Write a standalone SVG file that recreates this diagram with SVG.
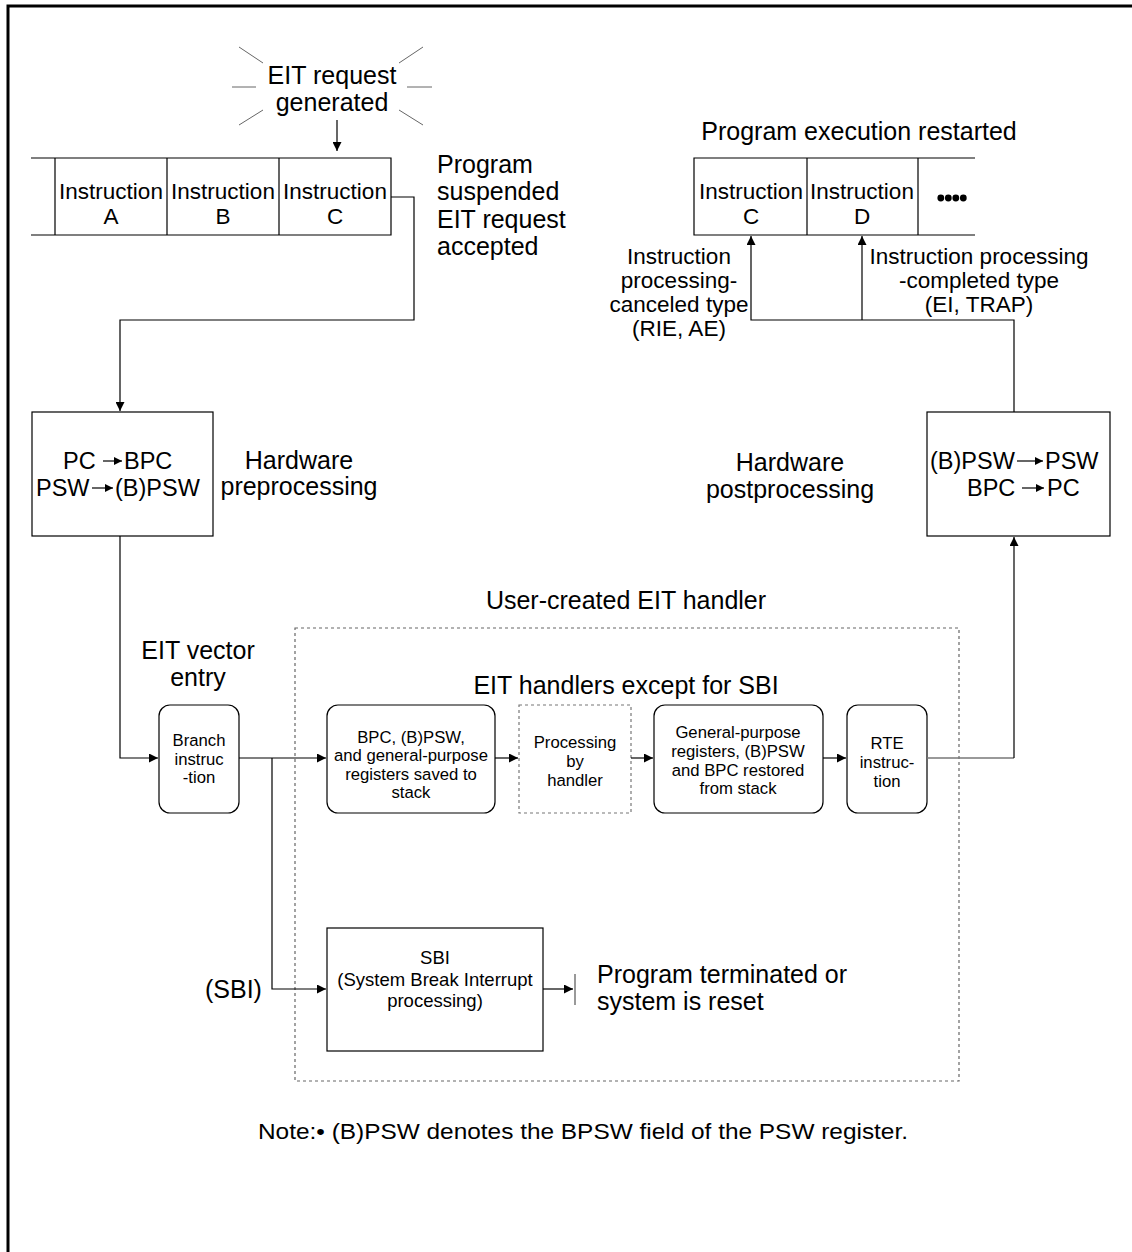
<svg xmlns="http://www.w3.org/2000/svg" width="1132" height="1252" viewBox="0 0 1132 1252">
<style>
text{font-family:"Liberation Sans",Arial,sans-serif;fill:#000}
.lbl{font-size:25px}
.mid{font-size:23.5px}
.cell{font-size:22.5px}
.sm{font-size:16.7px}
.sbi{font-size:18.5px}
.box{fill:#fff;stroke:#000;stroke-width:1.2}
.line{fill:none;stroke:#000;stroke-width:1.2}
.gray{fill:none;stroke:#777;stroke-width:1.5}
.dash{fill:none;stroke:#666;stroke-width:1.2;stroke-dasharray:3 3}
.ray{stroke:#666;stroke-width:1}
</style>
<defs>
<marker id="ah" viewBox="0 0 10 10" refX="10" refY="5" markerWidth="9" markerHeight="9" markerUnits="userSpaceOnUse" orient="auto"><path d="M0,0 L10,5 L0,10 z" fill="#000"/></marker>
<marker id="sah" viewBox="0 0 10 10" refX="10" refY="5" markerWidth="8" markerHeight="8" markerUnits="userSpaceOnUse" orient="auto"><path d="M0,0 L10,5 L0,10 z" fill="#000"/></marker>
</defs>
<rect width="1132" height="1252" fill="#fff"/>
<path d="M8,1252 V6 H1132" fill="none" stroke="#000" stroke-width="3"/>

<g id="eit-request">
<line class="ray" x1="239" y1="47" x2="263" y2="63"/>
<line class="ray" x1="232" y1="87" x2="256" y2="87"/>
<line class="ray" x1="239" y1="125" x2="263" y2="110"/>
<line class="ray" x1="399" y1="63" x2="423" y2="47"/>
<line class="ray" x1="407" y1="87" x2="432" y2="87"/>
<line class="ray" x1="399" y1="110" x2="423" y2="125"/>
<text class="lbl" x="332" y="84" text-anchor="middle">EIT request</text>
<text class="lbl" x="332" y="111" text-anchor="middle">generated</text>
</g>

<g id="instr-row-left">
<path class="line" d="M31,158 H391 V235 H31 M55,158 V235 M167,158 V235 M279,158 V235"/>
<text class="cell" x="111" y="199" text-anchor="middle">Instruction</text>
<text class="cell" x="111" y="224" text-anchor="middle">A</text>
<text class="cell" x="223" y="199" text-anchor="middle">Instruction</text>
<text class="cell" x="223" y="224" text-anchor="middle">B</text>
<text class="cell" x="335" y="199" text-anchor="middle">Instruction</text>
<text class="cell" x="335" y="224" text-anchor="middle">C</text>
</g>

<g id="suspended-label">
<text class="lbl" x="437" y="173">Program</text>
<text class="lbl" x="437" y="200">suspended</text>
<text class="lbl" x="437" y="228">EIT request</text>
<text class="lbl" x="437" y="255">accepted</text>
</g>

<g id="restart-label">
<text class="lbl" x="859" y="140" text-anchor="middle">Program execution restarted</text>
</g>

<g id="instr-row-right">
<path class="line" d="M975,158 H694 V235 H975 M807,158 V235 M918,158 V235"/>
<text class="cell" x="751" y="199" text-anchor="middle">Instruction</text>
<text class="cell" x="751" y="224" text-anchor="middle">C</text>
<text class="cell" x="862" y="199" text-anchor="middle">Instruction</text>
<text class="cell" x="862" y="224" text-anchor="middle">D</text>
<circle cx="940.8" cy="198" r="3.4"/><circle cx="948.3" cy="198" r="3.4"/><circle cx="955.8" cy="198" r="3.4"/><circle cx="963.3" cy="198" r="3.4"/>
</g>

<g id="canceled-label">
<text class="cell" x="679" y="264" text-anchor="middle">Instruction</text>
<text class="cell" x="679" y="288" text-anchor="middle">processing-</text>
<text class="cell" x="679" y="312" text-anchor="middle">canceled type</text>
<text class="cell" x="679" y="336" text-anchor="middle">(RIE, AE)</text>
</g>

<g id="completed-label">
<text class="cell" x="979" y="264" text-anchor="middle">Instruction processing</text>
<text class="cell" x="979" y="288" text-anchor="middle">-completed type</text>
<text class="cell" x="979" y="312" text-anchor="middle">(EI, TRAP)</text>
</g>

<g id="preprocessing">
<rect class="box" x="32" y="412" width="181" height="124"/>
<text class="mid" x="63" y="469">PC</text>
<line class="line" x1="103" y1="461" x2="122" y2="461" marker-end="url(#sah)"/>
<text class="mid" x="124" y="469">BPC</text>
<text class="mid" x="36" y="496">PSW</text>
<line class="line" x1="92" y1="488" x2="113" y2="488" marker-end="url(#sah)"/>
<text class="mid" x="115" y="496">(B)PSW</text>
</g>
<g id="preprocessing-label">
<text class="lbl" x="299" y="469" text-anchor="middle">Hardware</text>
<text class="lbl" x="299" y="495" text-anchor="middle">preprocessing</text>
</g>

<g id="postprocessing">
<rect class="box" x="927" y="412" width="183" height="124"/>
<text class="mid" x="930" y="469">(B)PSW</text>
<line class="line" x1="1017" y1="461" x2="1043" y2="461" marker-end="url(#sah)"/>
<text class="mid" x="1045" y="469">PSW</text>
<text class="mid" x="967" y="496">BPC</text>
<line class="line" x1="1022" y1="488" x2="1044" y2="488" marker-end="url(#sah)"/>
<text class="mid" x="1047" y="496">PC</text>
</g>
<g id="postprocessing-label">
<text class="lbl" x="790" y="471" text-anchor="middle">Hardware</text>
<text class="lbl" x="790" y="498" text-anchor="middle">postprocessing</text>
</g>

<g id="handler-region">
<rect class="dash" x="295" y="628" width="664" height="453"/>
<text class="lbl" x="626" y="609" text-anchor="middle">User-created EIT handler</text>
<text class="lbl" x="626" y="694" text-anchor="middle">EIT handlers except for SBI</text>
</g>

<g id="vector-entry-label">
<text class="lbl" x="198" y="659" text-anchor="middle">EIT vector</text>
<text class="lbl" x="198" y="686" text-anchor="middle">entry</text>
</g>

<g id="branch">
<rect class="box" x="159" y="705" width="80" height="108" rx="11"/>
<text class="sm" x="199" y="746" text-anchor="middle">Branch</text>
<text class="sm" x="199" y="765" text-anchor="middle">instruc</text>
<text class="sm" x="199" y="783" text-anchor="middle">-tion</text>
</g>

<g id="save">
<rect class="box" x="327" y="705" width="168" height="108" rx="11"/>
<text class="sm" x="411" y="743" text-anchor="middle">BPC, (B)PSW,</text>
<text class="sm" x="411" y="761" text-anchor="middle">and general-purpose</text>
<text class="sm" x="411" y="780" text-anchor="middle">registers saved to</text>
<text class="sm" x="411" y="798" text-anchor="middle">stack</text>
</g>

<g id="processing">
<rect x="519" y="705" width="112" height="108" fill="#fff" stroke="#777" stroke-width="1.2" stroke-dasharray="3 3"/>
<text class="sm" x="575" y="748" text-anchor="middle">Processing</text>
<text class="sm" x="575" y="767" text-anchor="middle">by</text>
<text class="sm" x="575" y="786" text-anchor="middle">handler</text>
</g>

<g id="restore">
<rect class="box" x="654" y="705" width="169" height="108" rx="11"/>
<text class="sm" x="738" y="738" text-anchor="middle">General-purpose</text>
<text class="sm" x="738" y="757" text-anchor="middle">registers, (B)PSW</text>
<text class="sm" x="738" y="776" text-anchor="middle">and BPC restored</text>
<text class="sm" x="738" y="794" text-anchor="middle">from stack</text>
</g>

<g id="rte">
<rect class="box" x="847" y="705" width="80" height="108" rx="11"/>
<text class="sm" x="887" y="749" text-anchor="middle">RTE</text>
<text class="sm" x="887" y="768" text-anchor="middle">instruc-</text>
<text class="sm" x="887" y="787" text-anchor="middle">tion</text>
</g>

<g id="sbi">
<rect class="box" x="327" y="928" width="216" height="123"/>
<text class="sbi" x="435" y="964" text-anchor="middle">SBI</text>
<text class="sbi" x="435" y="986" text-anchor="middle">(System Break Interrupt</text>
<text class="sbi" x="435" y="1007" text-anchor="middle">processing)</text>
</g>

<g id="sbi-label">
<text class="lbl" x="205" y="998">(SBI)</text>
</g>

<g id="terminated-label">
<text class="lbl" x="597" y="983">Program terminated or</text>
<text class="lbl" x="597" y="1010">system is reset</text>
</g>

<g id="note">
<text x="258" y="1139" font-size="22" textLength="650" lengthAdjust="spacingAndGlyphs">Note:• (B)PSW denotes the BPSW field of the PSW register.</text>
</g>

<g id="connectors">
<line class="line" x1="337" y1="120" x2="337" y2="151" marker-end="url(#ah)"/>
<path class="line" d="M391,197 H414 V320 H120 V411" marker-end="url(#ah)"/>
<path class="line" d="M120,536 V758 H158" marker-end="url(#ah)"/>
<path class="line" d="M239,758 H326" marker-end="url(#ah)"/>
<path class="line" d="M272,758 V989 H326" marker-end="url(#ah)"/>
<path class="line" d="M495,758 H518" marker-end="url(#ah)"/>
<path class="line" d="M631,758 H653" marker-end="url(#ah)"/>
<path class="line" d="M823,758 H846" marker-end="url(#ah)"/>
<path class="gray" d="M927,758 H1014"/>
<path class="line" d="M1014,758 V537" marker-end="url(#ah)"/>
<path class="line" d="M1014,412 V320 H751 V236" marker-end="url(#ah)"/>
<path class="line" d="M862,320 V236" marker-end="url(#ah)"/>
<path class="line" d="M543,989 H573" marker-end="url(#ah)"/>
<line x1="575" y1="974" x2="575" y2="1005" stroke="#777" stroke-width="1.5"/>
</g>
</svg>
